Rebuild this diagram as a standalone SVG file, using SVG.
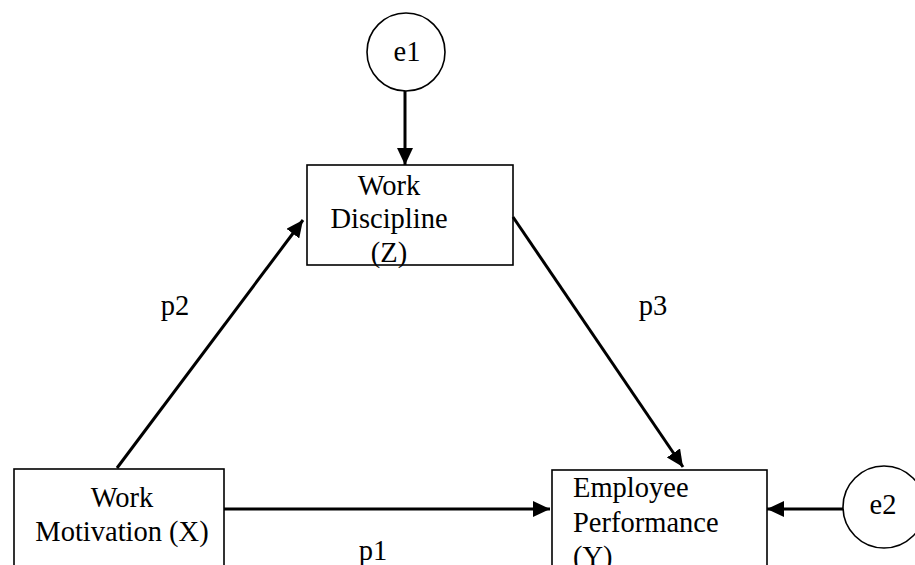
<svg xmlns="http://www.w3.org/2000/svg" width="915" height="565" viewBox="0 0 915 565">
<style>
.box{fill:#fff;stroke:#000;stroke-width:1.6}
.t{font-family:'Liberation Serif','Times New Roman','DejaVu Serif',serif;font-size:28.5px;fill:#000}
.m{text-anchor:middle}
.c line{stroke:#000;stroke-width:3;marker-end:url(#ah)}
</style>
<defs>
<marker id="ah" markerUnits="userSpaceOnUse" markerWidth="18" markerHeight="16" refX="17" refY="8" orient="auto">
<path d="M0,0 L17,8 L0,16 z" fill="#000"/>
</marker>
</defs>
<rect width="915" height="565" fill="#fff"/>
<g id="e1">
<circle class="box" cx="406" cy="52" r="39"/>
<text class="t m" x="407" y="61">e1</text>
</g>
<g id="Z">
<rect class="box" x="307" y="165" width="206" height="100" style="fill:none"/>
<text class="t m" x="389" y="195">Work</text>
<text class="t m" x="389" y="228">Discipline</text>
<text class="t m" x="389" y="262">(Z)</text>
</g>
<g id="X">
<rect class="box" x="14" y="469" width="210" height="120"/>
<text class="t m" x="122" y="507">Work</text>
<text class="t m" x="122" y="541">Motivation (X)</text>
</g>
<g id="Y">
<rect class="box" x="552" y="470" width="215" height="120"/>
<text class="t" x="573" y="497">Employee</text>
<text class="t" x="573" y="532">Performance</text>
<text class="t" x="573" y="566">(Y)</text>
</g>
<g id="e2">
<circle class="box" cx="884" cy="507" r="41"/>
<text class="t m" x="883" y="514">e2</text>
</g>
<g id="connectors" class="c">
<line x1="405" y1="91" x2="405" y2="165"/>
<line x1="117" y1="468" x2="303" y2="220"/>
<line x1="513" y1="217" x2="683" y2="467"/>
<line x1="224" y1="509" x2="550" y2="509"/>
<line x1="843" y1="509" x2="767" y2="509"/>
</g>
<g id="labels">
<text class="t m" x="175" y="315">p2</text>
<text class="t m" x="653" y="315">p3</text>
<text class="t m" x="373" y="560">p1</text>
</g>
</svg>
